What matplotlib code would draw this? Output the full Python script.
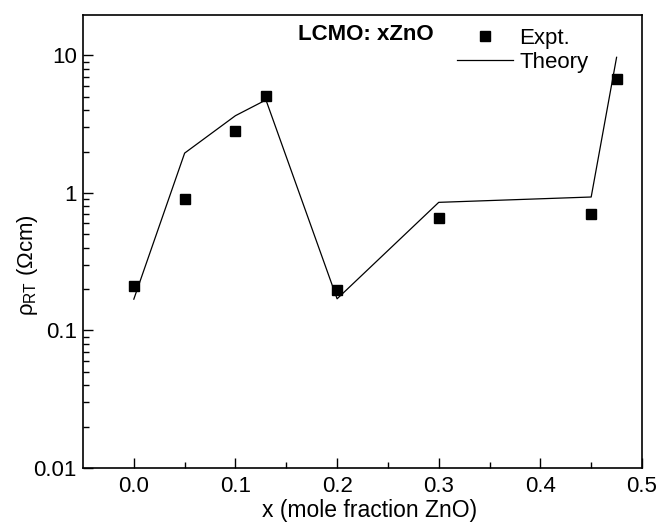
import matplotlib
matplotlib.use("Agg")
import matplotlib.pyplot as plt
from matplotlib.ticker import FixedLocator, FixedFormatter, LogLocator, NullFormatter

plt.rcParams['font.family'] = ['Liberation Sans', 'DejaVu Sans']
plt.rcParams['mathtext.fontset'] = 'custom'
plt.rcParams['mathtext.rm'] = 'Liberation Sans'
plt.rcParams['mathtext.it'] = 'Liberation Sans'

# data
x_expt = [0.0, 0.05, 0.10, 0.13, 0.20, 0.30, 0.45, 0.475]
rho_expt = [0.21, 0.91, 2.84, 5.05, 0.198, 0.655, 0.70, 6.7]

x_theory = [0.0, 0.05, 0.10, 0.13, 0.20, 0.30, 0.45, 0.475]
rho_theory = [0.169, 1.95, 3.65, 4.75, 0.17, 0.855, 0.935, 9.7]

xticks = [0.0, 0.1, 0.2, 0.3, 0.4, 0.5]
xticklabels = ["0.0", "0.1", "0.2", "0.3", "0.4", "0.5"]
yticks = [0.01, 0.1, 1, 10]
yticklabels = ["0.01", "0.1", "1", "10"]

fontsize = 16

fig = plt.figure(figsize=(6.58, 5.23), dpi=100)
ax = fig.add_axes([83/658, 1-468/523, (642-83)/658, (468-15)/523])

ax.plot(x_theory, rho_theory, color='k', lw=0.9, label='Theory')
ax.plot(x_expt, rho_expt, 's', color='k', ms=7, lw=0, label='Expt.')

ax.set_yscale('log')
ax.set_xlim(-0.05, 0.5)
ax.set_ylim(0.01, 19.7)

ax.xaxis.set_major_locator(FixedLocator(xticks))
ax.xaxis.set_major_formatter(FixedFormatter(xticklabels))
ax.xaxis.set_minor_locator(FixedLocator([0.05, 0.15, 0.25, 0.35, 0.45]))
ax.yaxis.set_major_locator(FixedLocator(yticks))
ax.yaxis.set_major_formatter(FixedFormatter(yticklabels))
ax.yaxis.set_minor_locator(LogLocator(base=10, subs=range(2, 10)))
ax.yaxis.set_minor_formatter(NullFormatter())

ax.tick_params(which='both', direction='in', top=False, right=False,
               labelsize=fontsize)
ax.tick_params(axis='y', pad=4.5)
ax.tick_params(axis='x', pad=5.5)
ax.tick_params(which='major', length=7, width=1)
ax.tick_params(which='minor', length=4.5, width=1)
for axis in ['top', 'bottom', 'left', 'right']:
    ax.spines[axis].set_linewidth(1.2)

ax.set_xlabel("x (mole fraction ZnO)", fontsize=16.5)
ax.xaxis.set_label_coords((370 - 83) / 559, -(510 - 468) / 453)
ax.set_ylabel(r"$\rho_{\mathrm{RT}}$ ($\Omega$cm)", fontsize=fontsize)
ax.yaxis.set_label_coords((27 - 83) / 559, (468 - 265) / 453)
ax.xaxis.label.set_va('center')
ax.yaxis.label.set_va('center')

ax.text(0.385, 0.956, "LCMO: xZnO", transform=ax.transAxes, fontsize=fontsize,
        fontweight='bold', ha='left', va='center')

h, l = ax.get_legend_handles_labels()
ax.legend([h[1], h[0]], [l[1], l[0]], loc='upper left', bbox_to_anchor=(0.669, 0.971),
          frameon=False, fontsize=fontsize, borderpad=0, borderaxespad=0,
          handlelength=2.5, handletextpad=0.3, labelspacing=0.14, numpoints=1)

fig.savefig("out.png", dpi=100)
